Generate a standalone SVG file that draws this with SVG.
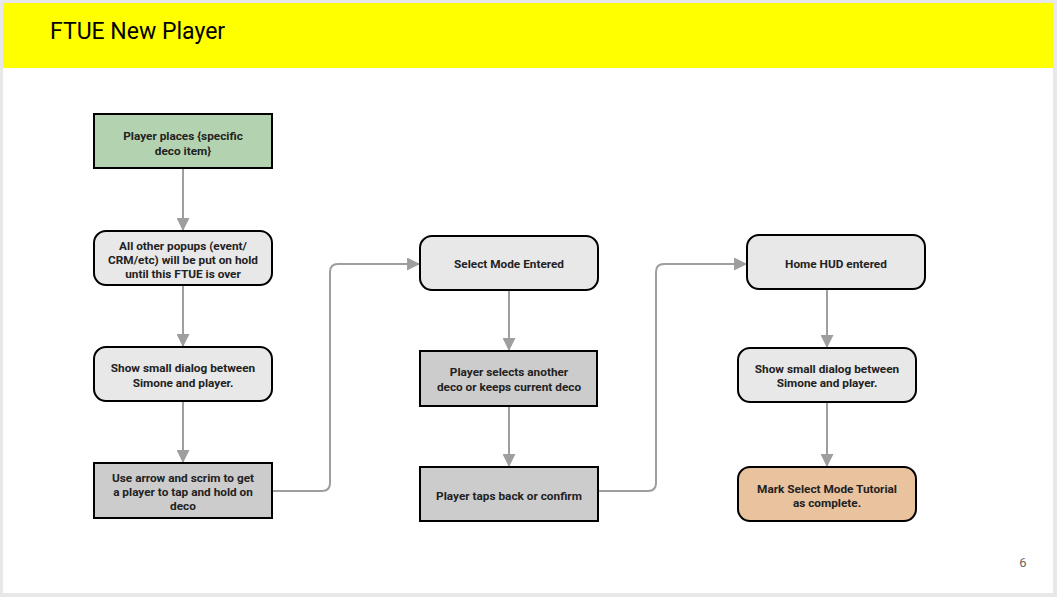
<svg xmlns="http://www.w3.org/2000/svg" width="1057" height="597" viewBox="0 0 1057 597">
<defs>
<style>
.n{stroke:#000;stroke-width:2}
.g{fill:#b3d3b0}
.l{fill:#e8e8e8}
.d{fill:#cccccc}
.o{fill:#e9c39e}
.t{font-family:Roboto,"Liberation Sans",sans-serif;font-weight:bold;font-size:11.8px;fill:#222;text-anchor:middle}
.c{fill:none;stroke:#9e9e9e;stroke-width:2;marker-end:url(#a)}
</style>
<marker id="a" viewBox="0 0 12 12" refX="11" refY="6" markerWidth="6.5" markerHeight="6.5" orient="auto" markerUnits="strokeWidth">
<path d="M0,0 L12,6 L0,12 Z" fill="#9e9e9e"/>
</marker>
</defs>
<rect x="0" y="0" width="1057" height="597" fill="#e8e8e8"/>
<rect x="3" y="3" width="1050" height="590" fill="#fff"/>
<rect x="3" y="3" width="1050" height="65" fill="#ffff00"/>
<text x="50" y="39" font-family="Roboto,'Liberation Sans',sans-serif" font-size="23" fill="#000">FTUE New Player</text>
<text x="1023" y="567" font-family="Roboto,'Liberation Sans',sans-serif" font-size="13" fill="#666" text-anchor="middle">6</text>
<g id="connectors">
<path class="c" d="M183,168 V230"/>
<path class="c" d="M183,285 V346"/>
<path class="c" d="M183,401 V462"/>
<path class="c" d="M272,491 H322 Q330,491 330,483 V272 Q330,264 338,264 H419"/>
<path class="c" d="M509,290 V350"/>
<path class="c" d="M509,406 V466"/>
<path class="c" d="M598,491 H648 Q656,491 656,483 V272 Q656,264 664,264 H746"/>
<path class="c" d="M827,289 V347"/>
<path class="c" d="M827,402 V466"/>
</g>
<g id="n1"><rect class="n g" x="94" y="114" width="178" height="54"/><text class="t" x="183" y="140">Player places {specific</text><text class="t" x="183" y="155">deco item}</text></g>
<g id="n2"><rect class="n l" x="94" y="231" width="178" height="54" rx="12"/><text class="t" x="183" y="250">All other popups (event/</text><text class="t" x="183" y="264">CRM/etc) will be put on hold</text><text class="t" x="183" y="278">until this FTUE is over</text></g>
<g id="n3"><rect class="n l" x="94" y="347" width="178" height="54" rx="12"/><text class="t" x="183" y="372">Show small dialog between</text><text class="t" x="183" y="387">Simone and player.</text></g>
<g id="n4"><rect class="n d" x="94" y="463" width="178" height="55"/><text class="t" x="183" y="482">Use arrow and scrim to get</text><text class="t" x="183" y="496">a player to tap and hold on</text><text class="t" x="183" y="510">deco</text></g>
<g id="n5"><rect class="n l" x="420" y="236" width="178" height="54" rx="12"/><text class="t" x="509" y="268">Select Mode Entered</text></g>
<g id="n6"><rect class="n d" x="420" y="351" width="177" height="55"/><text class="t" x="509" y="376">Player selects another</text><text class="t" x="509" y="391">deco or keeps current deco</text></g>
<g id="n7"><rect class="n d" x="420" y="467" width="178" height="54"/><text class="t" x="509" y="500">Player taps back or confirm</text></g>
<g id="n8"><rect class="n l" x="747" y="235" width="178" height="54" rx="12"/><text class="t" x="836" y="268">Home HUD entered</text></g>
<g id="n9"><rect class="n l" x="738" y="348" width="178" height="54" rx="12"/><text class="t" x="827" y="373">Show small dialog between</text><text class="t" x="827" y="387">Simone and player.</text></g>
<g id="n10"><rect class="n o" x="738" y="467" width="178" height="54" rx="12"/><text class="t" x="827" y="493">Mark Select Mode Tutorial</text><text class="t" x="827" y="507">as complete.</text></g>
</svg>
